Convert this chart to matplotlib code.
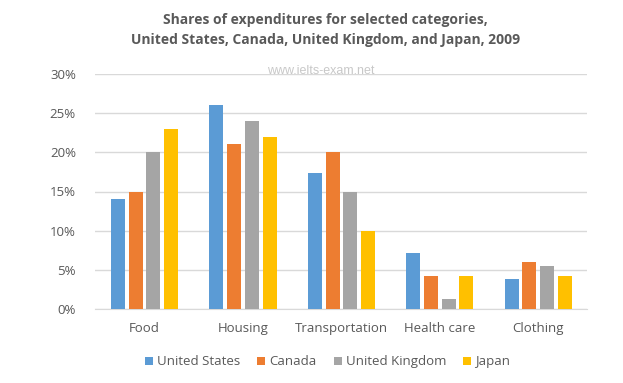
import numpy as np
import matplotlib.pyplot as plt

# dados
categorias = ["Food", "Housing", "Transportation", "Health care", "Clothing"]
paises = ["United States", "Canada", "United Kingdom", "Japan"]
us = [14, 26, 17.4, 7.2, 3.9]
canada = [15, 21, 20, 4.2, 6.0]
uk = [20, 24, 15, 1.3, 5.5]
japan = [23, 22, 10, 4.2, 4.2]
cores = ["#5B9BD5", "#ED7D31", "#A5A5A5", "#FFC000"]

plt.rcParams['font.family'] = ['Open Sans', 'DejaVu Sans']
cinza = "#595959"

fig = plt.figure(figsize=(6.23, 3.83), dpi=100)
ax = fig.add_axes([0.153, 0.193, 0.79, 0.614])

x = np.arange(len(categorias))
largura = 0.142
passo = 0.18
for i, (serie, cor, nome) in enumerate(zip([us, canada, uk, japan], cores, paises)):
	ax.bar(x + (i - 1.5) * passo, serie, largura, color=cor, label=nome, zorder=3)

ax.set_xlim(-0.5, len(categorias) - 0.5)
ax.set_ylim(0, 30)
ax.set_yticks(range(0, 31, 5))
ax.set_yticklabels([str(v) + "%" for v in range(0, 31, 5)])
ax.set_xticks(x)
ax.set_xticklabels(categorias)
ax.tick_params(axis='both', length=0, colors=cinza, labelsize=9.5)
ax.tick_params(axis='y', pad=14)
ax.tick_params(axis='x', pad=9)
ax.grid(axis='y', color="#D9D9D9", linewidth=1, zorder=0)
for s in ['top', 'right', 'left']:
	ax.spines[s].set_visible(False)
ax.spines['bottom'].set_color("#D9D9D9")

fig.text(0.522, 0.965, "Shares of expenditures for selected categories,\nUnited States, Canada, United Kingdom, and Japan, 2009",
		 ha='center', va='top', fontsize=10, fontweight='bold', color=cinza, linespacing=1.55)
fig.text(0.515, 0.815, "www.ielts-exam.net", ha='center', va='center', fontsize=9,
		 color="#C8C8C8", family=['Liberation Sans', 'DejaVu Sans'])

ax.legend(loc='center', bbox_to_anchor=(0.472, -0.225), ncol=4, frameon=False,
		  fontsize=9.5, handlelength=0.6, handleheight=0.6, handletextpad=0.3,
		  columnspacing=1.3, labelcolor=cinza)

plt.savefig("out.png", dpi=100)
